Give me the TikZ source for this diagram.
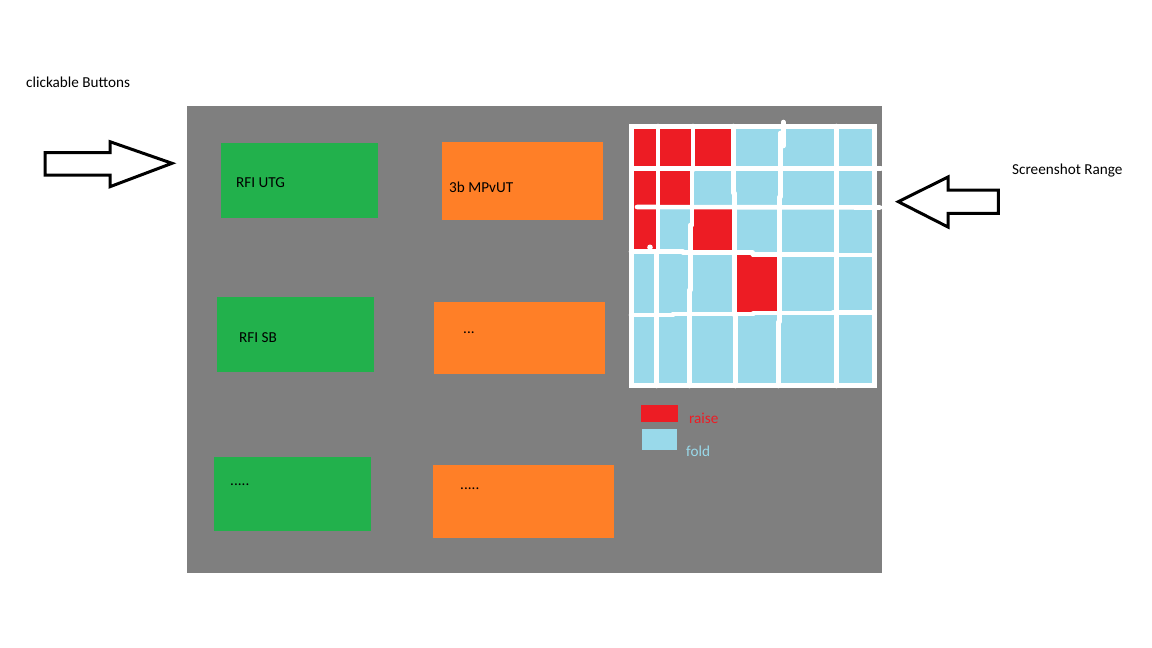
\documentclass[tikz,border=0pt]{standalone}
\usepackage{fontspec}
\setmainfont{Carlito}
\definecolor{pgray}{HTML}{7F7F7F}
\definecolor{pgreen}{HTML}{22B14C}
\definecolor{porange}{HTML}{FF7F27}
\definecolor{pred}{HTML}{ED1C24}
\definecolor{pblue}{HTML}{99D9EA}
\begin{document}
\begin{tikzpicture}[x=1pt,y=-1pt,
  gbox/.style={fill=pgreen,draw=none,anchor=north west,inner sep=0pt},
  obox/.style={fill=porange,draw=none,anchor=north west,inner sep=0pt},
  txt/.style={inner sep=0pt,anchor=base west,font=\fontsize{15.2}{18}\selectfont,text=black},
  gridline/.style={draw=white,line width=4.6pt,line cap=round},
  bigarrow/.style={draw=black,line width=3pt,fill=white,line join=miter}]
\useasboundingbox (0,0) rectangle (1152,648);
\fill[white] (0,0) rectangle (1152,648);
% panel
\fill[pgray] (187,106) rectangle (882,573);
% buttons
\node[gbox,minimum width=157pt,minimum height=75pt] (g1) at (221,143) {};
\node[gbox,minimum width=157pt,minimum height=75pt] (g2) at (217,297) {};
\node[gbox,minimum width=157pt,minimum height=74pt] (g3) at (214,457) {};
\node[obox,minimum width=161pt,minimum height=78pt] (o1) at (442,142) {};
\node[obox,minimum width=171pt,minimum height=72pt] (o2) at (434,302) {};
\node[obox,minimum width=181pt,minimum height=73pt] (o3) at (433,465) {};
\node[txt] (tg1) at (236,187) {RFI UTG};
\node[txt] (tg2) at (239,342) {RFI SB};
\node[txt] (tg3) at (230,485) {.....};
\node[txt] (to1) at (449,192.5) {3b MPvUT};
\node[txt] (to2) at (463,333) {...};
\node[txt] (to3) at (460,489) {.....};
% screenshot grid
\fill[white] (629,124) rectangle (877,388);
\fill[pblue] (634,129) rectangle (872,383);
\fill[pred] (634,129) rectangle (734,168);
\fill[pred] (634,168) rectangle (692,207);
\fill[pred] (634,207) rectangle (658,253);
\fill[pred] (691,207) rectangle (735,253);
\fill[pred] (735,254) rectangle (778,313);
% vertical lines
\draw[gridline] (658,126) -- (658,252);
\draw[gridline] (656.7,252) -- (656.7,386);
\draw[gridline] (693,126) -- (693,170);
\draw[gridline] (692,170) -- (692,225);
\draw[gridline] (690.5,225) -- (690.5,290);
\draw[gridline] (689.5,290) -- (689.5,386);
\draw[gridline] (733.3,126) -- (733.3,193);
\draw[gridline] (734.3,193) -- (734.3,315);
\draw[gridline] (735.3,315) -- (735.3,386);
\draw[gridline] (783.3,122) -- (783.3,146);
\draw[gridline] (780.3,133) -- (780.3,197);
\draw[gridline] (779.3,197) -- (779.3,322);
\draw[gridline] (778.3,322) -- (778.3,386);
\draw[gridline] (836.3,126) -- (836.3,386);
% horizontal lines
\draw[gridline] (632,168.3) -- (881,168.3);
\draw[gridline] (637,207) -- (880,207.5);
\draw[gridline] (631,251.7) -- (683,251.7);
\draw[gridline] (683,252.7) -- (752.7,252.7);
\draw[gridline] (752.7,254.3) -- (833,254.3);
\draw[gridline] (833,255) -- (874,255);
\draw[gridline] (631,315) -- (673,315);
\draw[gridline] (673,314) -- (753.3,314);
\draw[gridline] (753.3,313) -- (833,313);
\draw[gridline] (833,312.3) -- (874,312.3);
\fill[white] (650,247.3) circle (2.8);
% legend
\node[fill=pred,anchor=north west,inner sep=0pt,minimum width=37pt,minimum height=17pt] (lr) at (641,405) {};
\node[fill=pblue,anchor=north west,inner sep=0pt,minimum width=35pt,minimum height=21pt] (lb) at (642,429) {};
\node[txt,text=pred] (tlr) at (689,423) {raise};
\node[txt,text=pblue] (tlb) at (686,456) {fold};
% arrows
\draw[bigarrow] (45,152.7) -- (110,152.7) -- (110,141.7) -- (172,163.3) -- (110,186.7) -- (110,175) -- (45,175) -- cycle;
\draw[bigarrow] (998.3,190) -- (948,190) -- (948,177) -- (898.3,201.7) -- (948,227) -- (948,213.3) -- (998.3,213.3) -- cycle;
% labels
\node[txt] (lclick) at (26,87.7) {clickable Buttons};
\node[txt] (lscreen) at (1012,174) {Screenshot Range};
\end{tikzpicture}
\end{document}
